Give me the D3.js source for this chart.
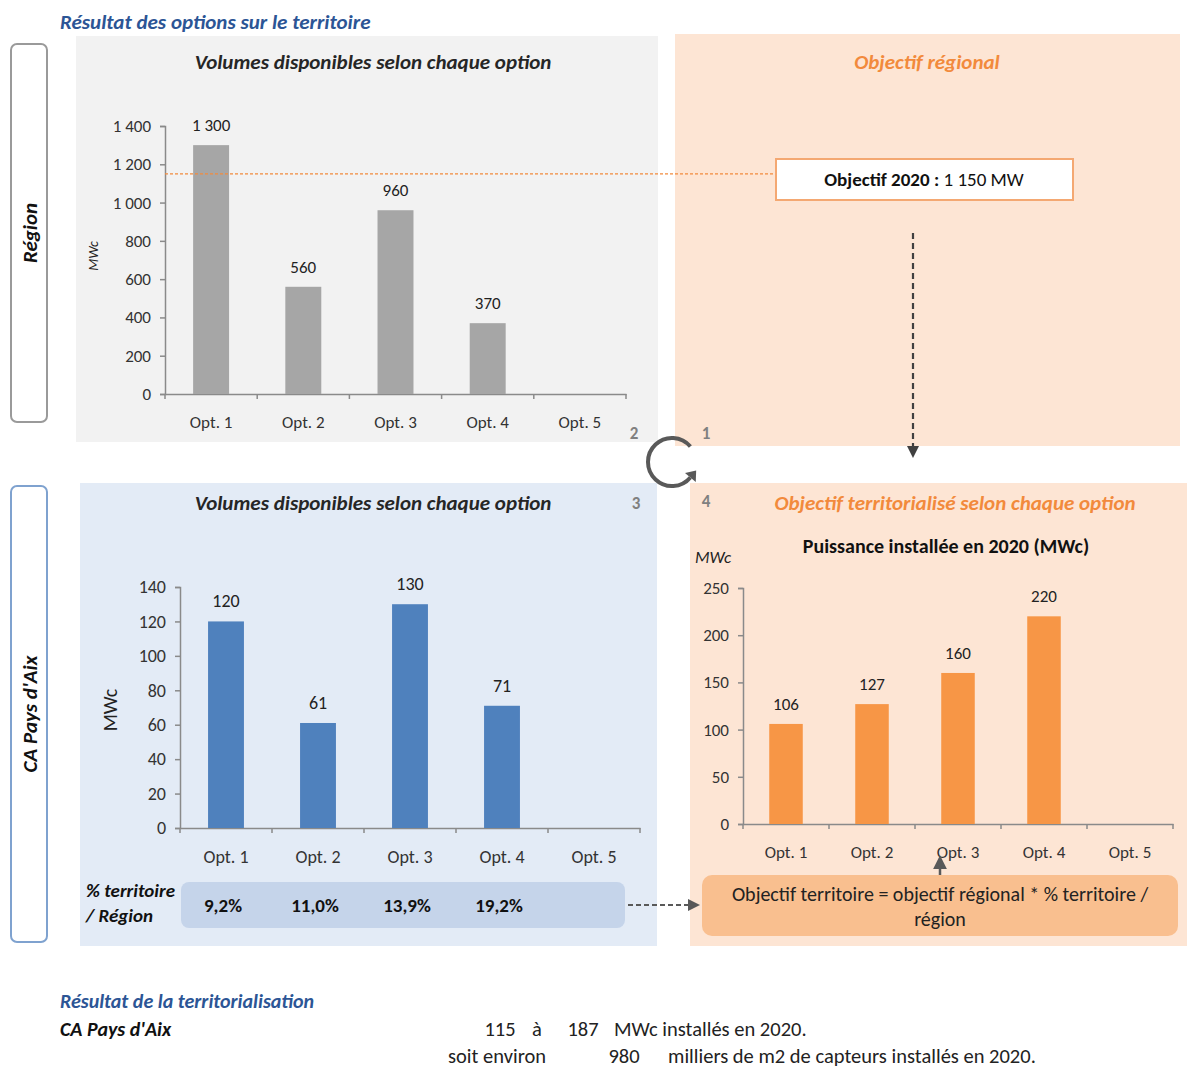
<!DOCTYPE html>
<html>
<head>
<meta charset="utf-8">
<script src="https://cdn.jsdelivr.net/npm/d3@7"></script>
<style>
  body { margin: 0; background: #fff; }
  svg text { font-family: Carlito, Lato, "Open Sans", sans-serif; }
</style>
</head>
<body>
<div id="chart"></div>
<script>
// chart values
var options = ["Opt. 1", "Opt. 2", "Opt. 3", "Opt. 4", "Opt. 5"];
var regionVolumes = [1300, 560, 960, 370, null];
var territoryVolumes = [120, 61, 130, 71, null];
var territoryObjective = [106, 127, 160, 220, null];
var territoryShare = ["9,2%", "11,0%", "13,9%", "19,2%", ""];
var regionalTarget = 1150;
var regionTicks = [0, 200, 400, 600, 800, 1000, 1200, 1400];
var territoryTicks = [0, 20, 40, 60, 80, 100, 120, 140];
var objectiveTicks = [0, 50, 100, 150, 200, 250];
var summaryRange = [115, 187];
var summaryArea = 980;

var fr = d3.formatLocale({decimal: ",", thousands: " ", grouping: [3], currency: ["", " €"]});
var fmt = fr.format(",d");

var svg = d3.select("#chart")
  .append("svg")
  .attr("width", 1187)
  .attr("height", 1070);

var defs = svg.append("defs");
function marker(id, color) {
  defs.append("marker")
    .attr("id", id)
    .attr("viewBox", "0 0 10 10")
    .attr("refX", 5).attr("refY", 5)
    .attr("markerWidth", 5.5).attr("markerHeight", 5.5)
    .attr("orient", "auto")
    .append("path")
    .attr("d", "M0,0 L10,5 L0,10 z")
    .attr("fill", color);
}
marker("arrowDark", "#404040");
marker("arrowGray", "#595959");

// background panels
svg.append("rect").attr("x", 76).attr("y", 36).attr("width", 582).attr("height", 406).attr("fill", "#f2f2f2");
svg.append("rect").attr("x", 675).attr("y", 34).attr("width", 505).attr("height", 412).attr("fill", "#fde5d4");
svg.append("rect").attr("x", 80).attr("y", 483).attr("width", 577).attr("height", 463).attr("fill", "#e3ebf6");
svg.append("rect").attr("x", 690).attr("y", 483).attr("width", 497).attr("height", 463).attr("fill", "#fde5d4");

// main title
svg.append("text").attr("x", 60).attr("y", 29)
  .attr("font-size", 21).attr("font-weight", "bold").attr("font-style", "italic")
  .attr("fill", "#2c5595").text("Résultat des options sur le territoire");

// side labels
function sideBox(y, h, stroke, label) {
  svg.append("rect").attr("x", 11).attr("y", y).attr("width", 36).attr("height", h)
    .attr("rx", 6).attr("fill", "#fff").attr("stroke", stroke).attr("stroke-width", 2);
  svg.append("text")
    .attr("transform", "translate(37," + (y + h / 2) + ")rotate(-90)")
    .attr("text-anchor", "middle")
    .attr("font-size", 21).attr("font-weight", "bold").attr("font-style", "italic")
    .attr("fill", "#111").text(label);
}
sideBox(44, 378, "#9a9a9a", "Région");
sideBox(486, 456, "#7fa2cf", "CA Pays d'Aix");

// generic bar chart
function barChart(cfg) {
  var g = svg.append("g");
  var x = d3.scaleBand().domain(options).range(cfg.xRange).padding(0);
  var y = d3.scaleLinear().domain(cfg.yDomain).range(cfg.yRange);
  var bw = x.bandwidth() * 0.39;

  // y axis
  var ya = g.append("g")
    .attr("transform", "translate(" + cfg.xRange[0] + ",0)")
    .call(d3.axisLeft(y).tickValues(cfg.ticks).tickFormat(fmt).tickSize(5).tickPadding(cfg.yPad));
  ya.select(".domain").attr("stroke", "#8a8a8a").attr("stroke-width", 1.5);
  ya.selectAll(".tick line").attr("stroke", "#8a8a8a").attr("stroke-width", 1.5);
  ya.selectAll("text").attr("font-size", cfg.fs).attr("fill", "#333")
    .style("font-family", "Carlito, Lato, sans-serif");

  // x axis
  var xa = g.append("g")
    .attr("transform", "translate(0," + cfg.yRange[0] + ")")
    .call(d3.axisBottom(x).tickSize(0).tickPadding(cfg.xPad));
  xa.select(".domain").attr("stroke", "#8a8a8a").attr("stroke-width", 1.5);
  xa.selectAll("text").attr("font-size", cfg.fs).attr("fill", "#333")
    .style("font-family", "Carlito, Lato, sans-serif");
  var edges = options.map(function(d) { return x(d); }).concat([cfg.xRange[1]]);
  g.selectAll(".edge").data(edges).enter().append("line")
    .attr("x1", function(d) { return d; }).attr("x2", function(d) { return d; })
    .attr("y1", cfg.yRange[0]).attr("y2", cfg.yRange[0] + 5)
    .attr("stroke", "#8a8a8a").attr("stroke-width", 1.5);

  var data = options.map(function(o, i) { return {o: o, v: cfg.values[i]}; })
    .filter(function(d) { return d.v != null; });

  g.selectAll(".bar").data(data).enter().append("rect")
    .attr("x", function(d) { return x(d.o) + (x.bandwidth() - bw) / 2; })
    .attr("width", bw)
    .attr("y", function(d) { return y(d.v); })
    .attr("height", function(d) { return y(0) - y(d.v); })
    .attr("fill", cfg.color);

  g.selectAll(".lbl").data(data).enter().append("text")
    .attr("x", function(d) { return x(d.o) + x.bandwidth() / 2; })
    .attr("y", function(d) { return y(d.v) - 14; })
    .attr("text-anchor", "middle")
    .attr("font-size", cfg.fs).attr("fill", "#222")
    .text(function(d) { return fmt(d.v); });

  return {x: x, y: y};
}

// top chart: region
var regionChart = barChart({
  xRange: [165, 626], yDomain: [0, 1400], yRange: [394, 126],
  ticks: regionTicks, values: regionVolumes, color: "#a6a6a6",
  fs: 17, yPad: 9, xPad: 22
});
svg.append("text").attr("x", 373).attr("y", 69).attr("text-anchor", "middle")
  .attr("font-size", 21).attr("font-weight", "bold").attr("font-style", "italic")
  .attr("fill", "#262626").text("Volumes disponibles selon chaque option");
svg.append("text").attr("transform", "translate(98,256)rotate(-90)").attr("text-anchor", "middle")
  .attr("font-size", 14).attr("font-style", "italic").attr("fill", "#222").text("MWc");

// regional target
svg.append("line")
  .attr("x1", 165).attr("x2", 776)
  .attr("y1", regionChart.y(regionalTarget)).attr("y2", regionChart.y(regionalTarget))
  .attr("stroke", "#f28a3c").attr("stroke-width", 1.3).attr("stroke-dasharray", "3,2");
svg.append("text").attr("x", 927).attr("y", 69).attr("text-anchor", "middle")
  .attr("font-size", 21).attr("font-weight", "bold").attr("font-style", "italic")
  .attr("fill", "#f28a3c").text("Objectif régional");
svg.append("rect").attr("x", 776).attr("y", 159).attr("width", 297).attr("height", 41)
  .attr("fill", "#fff").attr("stroke", "#f4a872").attr("stroke-width", 2);
var tgt = svg.append("text").attr("x", 924).attr("y", 186).attr("text-anchor", "middle")
  .attr("font-size", 19).attr("fill", "#111");
tgt.append("tspan").attr("font-weight", "bold").text("Objectif 2020 :");
tgt.append("tspan").text(" " + fmt(regionalTarget) + " MW");

svg.append("line").attr("x1", 913).attr("x2", 913).attr("y1", 233).attr("y2", 452)
  .attr("stroke", "#404040").attr("stroke-width", 2.2).attr("stroke-dasharray", "6,4")
  .attr("marker-end", "url(#arrowDark)");

// cycle arrow
var p = d3.path();
var cx = 672, cy = 462, r = 24;
var a0 = -40 * Math.PI / 180, a1 = 40 * Math.PI / 180;
p.arc(cx, cy, r, a0, a1, true);
svg.append("path").attr("d", p.toString()).attr("fill", "none")
  .attr("stroke", "#595959").attr("stroke-width", 4);
var ex = cx + r * Math.cos(a1), ey = cy + r * Math.sin(a1);
var tx = Math.sin(a1), ty = -Math.cos(a1);
var nx = -ty, ny = tx;
svg.append("path")
  .attr("d", "M" + (ex + tx * 9) + "," + (ey + ty * 9) +
    "L" + (ex + nx * 7) + "," + (ey + ny * 7) +
    "L" + (ex - nx * 7) + "," + (ey - ny * 7) + "Z")
  .attr("fill", "#595959");
[["2", 634, 439], ["1", 706, 439], ["3", 636, 509], ["4", 706, 507]].forEach(function(n) {
  svg.append("text").attr("x", n[1]).attr("y", n[2]).attr("text-anchor", "middle")
    .attr("font-size", 17).attr("font-weight", "bold").attr("fill", "#808080").text(n[0]);
});

// bottom left: territory volumes
var bl = barChart({
  xRange: [180, 640], yDomain: [0, 140], yRange: [828, 587],
  ticks: territoryTicks, values: territoryVolumes, color: "#4f81bd",
  fs: 18, yPad: 9, xPad: 22
});
svg.append("text").attr("x", 373).attr("y", 510).attr("text-anchor", "middle")
  .attr("font-size", 21).attr("font-weight", "bold").attr("font-style", "italic")
  .attr("fill", "#262626").text("Volumes disponibles selon chaque option");
svg.append("text").attr("transform", "translate(117,710)rotate(-90)").attr("text-anchor", "middle")
  .attr("font-size", 20).attr("fill", "#222").text("MWc");

svg.append("text").attr("x", 86).attr("y", 897)
  .attr("font-size", 19).attr("font-weight", "bold").attr("font-style", "italic")
  .attr("fill", "#111").text("% territoire");
svg.append("text").attr("x", 86).attr("y", 922)
  .attr("font-size", 19).attr("font-weight", "bold").attr("font-style", "italic")
  .attr("fill", "#111").text("/ Région");
svg.append("rect").attr("x", 181).attr("y", 882).attr("width", 444).attr("height", 46)
  .attr("rx", 8).attr("fill", "#c5d4ea");
svg.selectAll(".share").data(options).enter().append("text")
  .attr("x", function(d) { return bl.x(d) + bl.x.bandwidth() / 2 - 3; })
  .attr("y", 912).attr("text-anchor", "middle")
  .attr("font-size", 19).attr("font-weight", "bold").attr("fill", "#111")
  .text(function(d, i) { return territoryShare[i]; });
svg.append("line").attr("x1", 628).attr("x2", 694).attr("y1", 905).attr("y2", 905)
  .attr("stroke", "#595959").attr("stroke-width", 2.2).attr("stroke-dasharray", "5,3")
  .attr("marker-end", "url(#arrowGray)");

// bottom right: territorial objective
var br = barChart({
  xRange: [743, 1173], yDomain: [0, 250], yRange: [824, 588],
  ticks: objectiveTicks, values: territoryObjective, color: "#f79646",
  fs: 17, yPad: 9, xPad: 22
});
svg.append("text").attr("x", 955).attr("y", 510).attr("text-anchor", "middle")
  .attr("font-size", 21).attr("font-weight", "bold").attr("font-style", "italic")
  .attr("fill", "#f28a3c").text("Objectif territorialisé selon chaque option");
svg.append("text").attr("x", 946).attr("y", 553).attr("text-anchor", "middle")
  .attr("font-size", 20).attr("font-weight", "bold")
  .attr("fill", "#111").text("Puissance installée en 2020 (MWc)");
svg.append("text").attr("x", 695).attr("y", 563)
  .attr("font-size", 17).attr("font-style", "italic")
  .attr("fill", "#222").text("MWc");

svg.append("rect").attr("x", 702).attr("y", 875).attr("width", 476).attr("height", 61)
  .attr("rx", 10).attr("fill", "#f9bf8f");
svg.append("text").attr("x", 940).attr("y", 901).attr("text-anchor", "middle")
  .attr("font-size", 20).attr("fill", "#222")
  .text("Objectif territoire = objectif régional  *  % territoire /");
svg.append("text").attr("x", 940).attr("y", 926).attr("text-anchor", "middle")
  .attr("font-size", 20).attr("fill", "#222").text("région");
svg.append("line").attr("x1", 940).attr("x2", 940).attr("y1", 875).attr("y2", 862)
  .attr("stroke", "#595959").attr("stroke-width", 2.5)
  .attr("marker-end", "url(#arrowGray)");

// summary
svg.append("text").attr("x", 60).attr("y", 1008)
  .attr("font-size", 20).attr("font-weight", "bold").attr("font-style", "italic")
  .attr("fill", "#2c5595").text("Résultat de la territorialisation");
svg.append("text").attr("x", 60).attr("y", 1036)
  .attr("font-size", 20).attr("font-weight", "bold").attr("font-style", "italic")
  .attr("fill", "#111").text("CA Pays d'Aix");
function t(x, y, s, anchor) {
  svg.append("text").attr("x", x).attr("y", y).attr("text-anchor", anchor || "start")
    .attr("font-size", 20.5).attr("fill", "#222").text(s);
}
t(500, 1036, summaryRange[0], "middle");
t(537, 1036, "à", "middle");
t(583, 1036, summaryRange[1], "middle");
t(614, 1036, "MWc installés en 2020.");
t(448, 1063, "soit environ");
t(624, 1063, summaryArea, "middle");
t(668, 1063, "milliers de m2 de capteurs installés en 2020.");
</script>
</body>
</html>
